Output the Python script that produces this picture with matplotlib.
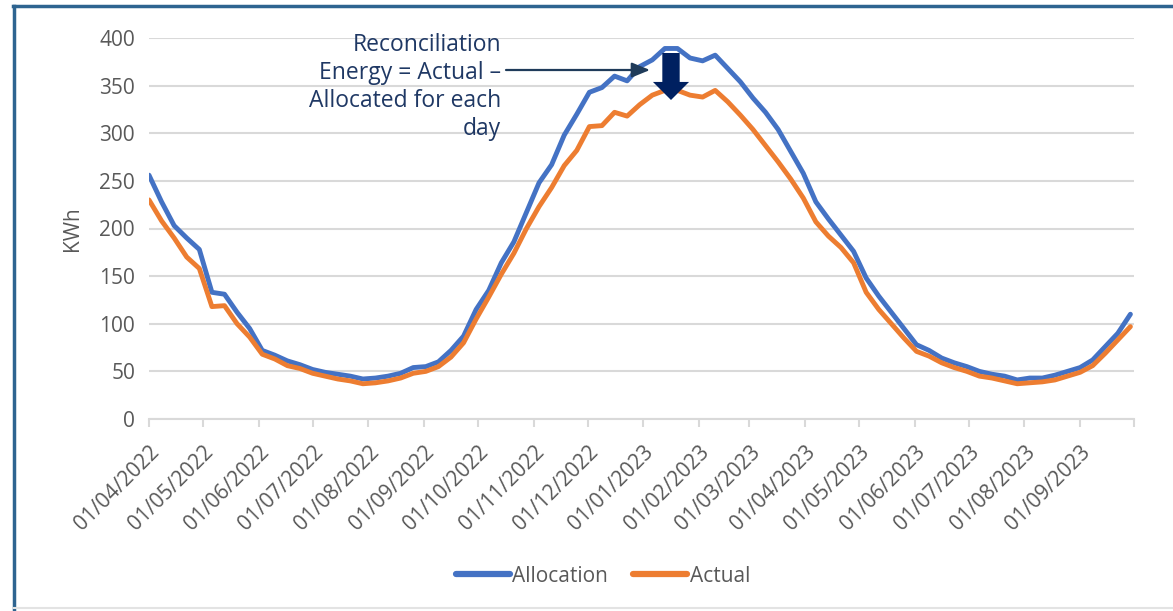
import matplotlib
matplotlib.use("Agg")
import matplotlib.pyplot as plt
from matplotlib.lines import Line2D
import pandas as pd

plt.rcParams['font.family'] = ['Open Sans', 'DejaVu Sans']

start_date = "2022-04-01"
step_days = 7
allocation = [256, 228, 203, 190, 178, 133, 131, 112, 95, 72, 67, 61, 57, 52, 49, 47, 45, 42, 43, 45,
              48, 54, 55, 60, 72, 87, 115, 135, 164, 186, 217, 248, 267, 298, 320, 343, 348, 360, 355, 370,
              377, 389, 389, 379, 376, 382, 368, 354, 337, 322, 304, 281, 258, 228, 210, 193, 176, 148, 129, 112,
              95, 78, 72, 64, 59, 55, 50, 47, 45, 41, 43, 43, 46, 50, 54, 62, 76, 90, 110]
actual = [230, 208, 190, 170, 158, 118, 119, 100, 86, 68, 63, 56, 53, 48, 45, 42, 40, 37, 38, 40,
          43, 48, 50, 55, 65, 80, 105, 128, 152, 174, 200, 223, 243, 266, 282, 307, 308, 322, 318, 330,
          340, 345, 345, 340, 338, 345, 333, 319, 304, 287, 270, 252, 232, 207, 192, 180, 164, 133, 115, 100,
          85, 71, 66, 59, 54, 50, 45, 43, 40, 37, 38, 39, 41, 45, 49, 56, 69, 83, 97]
tick_dates = pd.date_range("2022-04-01", "2023-09-01", freq="MS")
axis_end = "2023-10-01"
y_ticks = [0, 50, 100, 150, 200, 250, 300, 350, 400]
annotation_text = "Reconciliation\nEnergy = Actual \u2013\nAllocated for each\nday"

dates = pd.date_range(start_date, periods=len(allocation), freq=f"{step_days}D")

fig = plt.figure(figsize=(11.73, 6.11), dpi=100)
ax = fig.add_axes([149/1173, 1-419/611, (1134-149)/1173, (419-38)/611])

grid_c = '#d9d9d9'
text_c = '#595959'
fs = 15

ax.plot(dates, allocation, color='#4472C4', lw=3.5, solid_capstyle='round', label='Allocation', zorder=3)
ax.plot(dates, actual, color='#ED7D31', lw=3.5, solid_capstyle='round', label='Actual', zorder=3)

ax.set_xlim(pd.Timestamp(start_date), pd.Timestamp(axis_end))
ax.set_ylim(0, 400)
ax.set_yticks(y_ticks)
ax.yaxis.grid(True, color=grid_c, lw=1.5)
ax.set_axisbelow(True)
for s in ['top', 'right', 'left']:
    ax.spines[s].set_visible(False)
ax.spines['bottom'].set_color(grid_c)
ax.spines['bottom'].set_linewidth(1.5)
ax.tick_params(axis='y', length=0, pad=10, labelsize=fs, labelcolor=text_c)
ax.set_xticks(list(tick_dates) + [pd.Timestamp(axis_end)])
ax.set_xticklabels([d.strftime('%d/%m/%Y') for d in tick_dates] + [''])
ax.tick_params(axis='x', length=6, width=1.5, color=grid_c, labelsize=fs, labelcolor=text_c, pad=10)
for lab in ax.get_xticklabels():
    lab.set_rotation(45)
    lab.set_ha('right')
    lab.set_va('top')
    lab.set_rotation_mode('anchor')

ax.set_ylabel('KWh', fontsize=fs, color=text_c, labelpad=12)

# annotation text
fig.text(501/1173, 1-33/611, annotation_text, ha='right', va='top', fontsize=16.5,
         color='#1F3864', linespacing=1.22)

# thin arrow
ax.annotate('', xy=(650, 611-70), xycoords='figure pixels',
            xytext=(506, 611-70), textcoords='figure pixels',
            arrowprops=dict(arrowstyle='-|>,head_length=1.1,head_width=0.45', color='#1F3B5A', lw=1.6,
                            shrinkA=0, shrinkB=0))
# block arrow
ax.annotate('', xy=(671, 611-100), xycoords='figure pixels',
            xytext=(671, 611-53), textcoords='figure pixels',
            arrowprops=dict(arrowstyle='simple,head_length=1.3,head_width=2.6,tail_width=1.25',
                            color='#002060', shrinkA=0, shrinkB=0, lw=0))

# legend
leg = ax.legend(loc='center', bbox_to_anchor=((603-149)/985, (611-576-(611-419))/(419-38)), ncol=2,
                frameon=False, fontsize=fs, handlelength=2.6, handletextpad=0.1, columnspacing=1.2,
                labelcolor=text_c)
for h in leg.legend_handles:
    h.set_linewidth(4.5)

# frame
frame_c = '#2E6490'
fig.add_artist(Line2D([13/1173, 1], [1-6/611, 1-6/611], color=frame_c, lw=2.5, transform=fig.transFigure))
fig.add_artist(Line2D([14/1173, 14/1173], [0, 1-6/611], color=frame_c, lw=2.5, transform=fig.transFigure))
fig.add_artist(Line2D([14/1173, 1], [1-608/611, 1-608/611], color='#e3e3e3', lw=1.5, transform=fig.transFigure))

fig.savefig('out.png', dpi=100)
